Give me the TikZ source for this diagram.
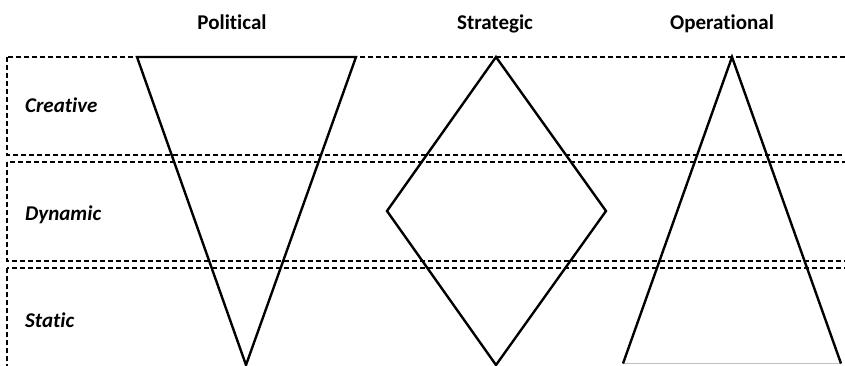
\documentclass[tikz,border=0pt]{standalone}
\usepackage{fontspec}
\setmainfont[RawFeature={-liga;-calt;-clig;-dlig}]{Carlito}
\begin{document}
\begin{tikzpicture}[x=1pt,y=-1pt,
  band/.style={draw=black, line width=1.1pt, dash pattern=on 5pt off 3pt},
  shapeline/.style={draw=black, line width=2.4pt, line join=miter},
  collabel/.style={font=\fontsize{21}{24}\selectfont\bfseries, anchor=base, inner sep=0pt},
  rowlabel/.style={font=\fontsize{21}{24}\selectfont\bfseries\itshape, anchor=base west, inner sep=0pt}]
\useasboundingbox (0,0) rectangle (845,365);
\begin{scope}
\clip (0,0) rectangle (845,365);
% bands
\draw[band] (7,57) rectangle (860,155);
\draw[band] (7,162) rectangle (860,261);
\draw[band] (7,268) rectangle (860,380);
% coordinates
\coordinate (p1) at (137,57);
\coordinate (p2) at (356,57);
\coordinate (p3) at (246,365);
\coordinate (d1) at (496,57);
\coordinate (d2) at (606,211);
\coordinate (d3) at (496,365);
\coordinate (d4) at (387,211);
\coordinate (o1) at (732,57);
\coordinate (o2) at (841,363.5);
\coordinate (o3) at (623,363.5);
% shapes
\draw[shapeline] (p1) -- (p2) -- (p3) -- cycle;
\draw[shapeline] (d1) -- (d2) -- (d3) -- (d4) -- cycle;
\draw[black!25, line width=1pt] (o3) -- (o2);
\draw[shapeline] (o3) -- (o1) -- (o2);
\end{scope}
% labels
\node[collabel] (political) at (232,29) {Political};
\node[collabel] (strategic) at (495,29) {Strategic};
\node[collabel] (operational) at (722,29) {Operational};
\node[rowlabel] (creative) at (25,112) {Creative};
\node[rowlabel] (dynamic) at (25,220) {Dynamic};
\node[rowlabel] (static) at (25,327) {Static};
\end{tikzpicture}
\end{document}
